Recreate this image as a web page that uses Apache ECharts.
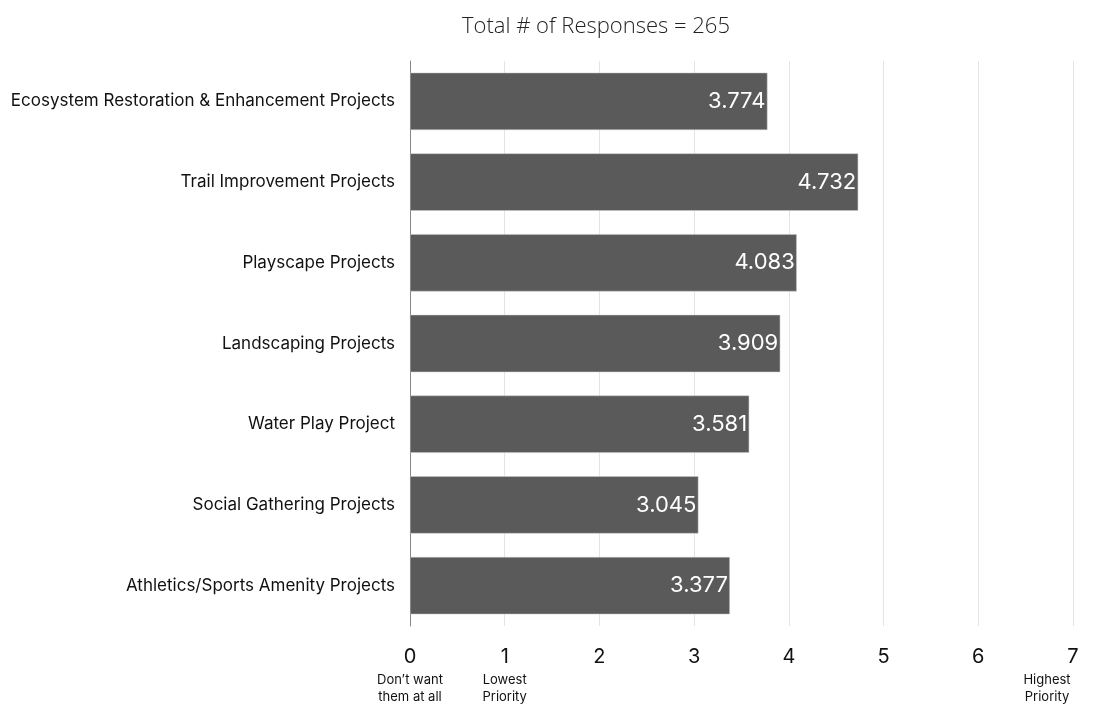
<!DOCTYPE html>
<html><head><meta charset="utf-8">
<script src="https://cdn.jsdelivr.net/npm/echarts@6/dist/echarts.min.js"></script>
<style>html,body{margin:0;padding:0;background:#fff}#c{width:1100px;height:710px}</style>
</head><body><div id="c"></div>
<script>
const categories = ["Ecosystem Restoration & Enhancement Projects","Trail Improvement Projects","Playscape Projects","Landscaping Projects","Water Play Project","Social Gathering Projects","Athletics/Sports Amenity Projects"];
const values = [3.774, 4.732, 4.083, 3.909, 3.581, 3.045, 3.377];
const tickNotes = {0: "Don\u2019t want\nthem at all", 1: "Lowest\nPriority", 7: "Highest\nPriority"};
const subtitle = "Total # of Responses = 265";

const chart = echarts.init(document.getElementById('c'), null, {renderer: 'canvas'});
chart.setOption({
  animation: false,
  backgroundColor: '#fff',
  title: {text: subtitle, left: 591, top: 11, textAlign: 'center',
    textStyle: {fontFamily: 'Open Sans', fontWeight: 300, fontSize: 22, color: '#222'}},
  grid: {left: 410, right: 27, top: 61, bottom: 84, containLabel: false, outerBoundsMode: 'none'},
  xAxis: {
    type: 'value', min: 0, max: 7, interval: 1,
    axisLine: {show: false}, axisTick: {show: false},
    splitLine: {show: true, lineStyle: {color: '#e4e4e4', width: 1}},
    axisLabel: {
      margin: 16,
      formatter: function (v) {
        const n = tickNotes[v];
        if (!n) return '{n|' + v + '}';
        const lines = n.split('\n');
        const st = v === 7 ? 'r' : 's';
        return '{n|' + v + '}\n' + lines.map(l => '{' + st + '|' + l + '}').join('\n');
      },
      rich: {
        n: {fontFamily: 'Inter', fontSize: 20, color: '#111', lineHeight: 30},
        s: {fontFamily: 'Inter', fontSize: 13, color: '#111', lineHeight: 17},
        r: {fontFamily: 'Inter', fontSize: 13, color: '#111', lineHeight: 17, padding: [0, 52, 0, 0]}
      },
      verticalAlign: 'top'
    }
  },
  yAxis: {
    type: 'category', data: categories, inverse: true,
    axisLine: {show: true, lineStyle: {color: '#888', width: 1}},
    axisTick: {show: false},
    axisLabel: {margin: 15, fontFamily: 'Inter', fontSize: 17, color: '#111'}
  },
  series: [{
    type: 'bar', data: values, barCategoryGap: '29%',
    itemStyle: {color: '#5a5a5a', borderColor: '#c8c8c8', borderWidth: 0.5},
    label: {show: true, position: 'insideRight', distance: 2, color: '#fff',
      fontFamily: 'Inter', fontSize: 22,
      formatter: p => p.value.toFixed(3)}
  }]
});
</script></body></html>
